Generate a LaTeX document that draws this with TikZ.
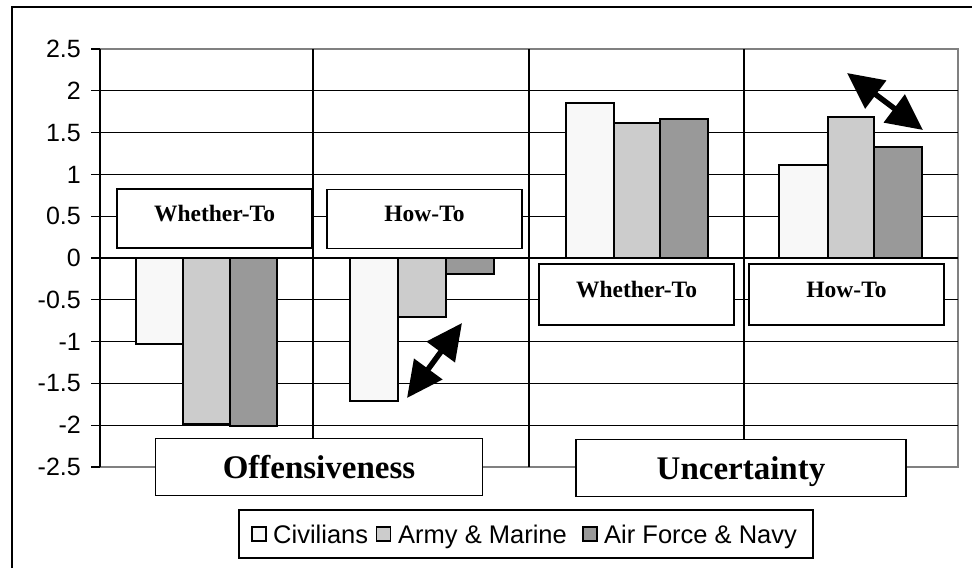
\documentclass[tikz,border=0pt]{standalone}
\usepackage{fontspec}
\setmainfont{Liberation Serif}
\setsansfont{Liberation Sans}
\usetikzlibrary{arrows.meta}
\definecolor{civ}{HTML}{F8F8F8}
\definecolor{army}{HTML}{CCCCCC}
\definecolor{airnavy}{HTML}{999999}
\definecolor{plotedge}{HTML}{808080}

\tikzset{
  grid/.style={line width=1.3pt, black},
  edge/.style={line width=1.6pt, plotedge},
  bar/.style={draw=black, line width=1.6pt},
  ticklab/.style={anchor=east, inner sep=0pt, font=\sffamily\fontsize{25}{25}\selectfont},
  tagbox/.style={draw=black, fill=white, line width=1.8pt, minimum width=195pt,
    text height=15pt, text depth=10pt,
    font=\bfseries\fontsize{23.5}{23.5}\selectfont},
  catbox/.style={draw=black, fill=white, line width=1.8pt, minimum height=57pt,
    text height=22pt, text depth=0pt,
    font=\bfseries\fontsize{33}{33}\selectfont},
  legsq/.style={draw=black, line width=1.2pt, minimum width=14pt, minimum height=14pt, inner sep=0pt},
  legtext/.style={anchor=base west, inner sep=0pt, font=\sffamily\fontsize{25.5}{25.5}\selectfont},
  gap/.style={line width=5.5pt, {Triangle[length=36pt,width=34pt]}-{Triangle[length=36pt,width=34pt]}}
}

\begin{document}
\begin{tikzpicture}[x=1pt, y=-1pt]
\useasboundingbox (0,0) rectangle (972,568);

% outer chart frame
\draw[line width=1.8pt] (12,568) -- (12,7) -- (972,7);

% plot area edges
\draw[edge] (100,49) -- (958,49) -- (958,467) -- (100,467);

% horizontal gridlines, ticks and value labels
\foreach \v in {-2,-1.5,-1,-0.5,0,0.5,1,1.5,2}{
  \draw[grid] (91,{258-83.6*\v}) -- (958,{258-83.6*\v});
}
\foreach \v in {-2.5,-2,-1.5,-1,-0.5,0,0.5,1,1.5,2,2.5}{
  \draw[grid] (91,{258-83.6*\v}) -- (100,{258-83.6*\v});
  \node[ticklab] at (81,{258-83.6*\v}) {\v};
}

% value axis and category dividers
\draw[grid] (100,49) -- (100,467);
\foreach \x in {313,529,744}{
  \draw[grid] (\x,49) -- (\x,467);
}

% bars: Offensiveness, whether-to
\draw[bar, fill=civ]     (136,258) rectangle (183,344);
\draw[bar, fill=army]    (183,258) rectangle (230,424);
\draw[bar, fill=airnavy] (230,258) rectangle (277,426);
% bars: Offensiveness, how-to
\draw[bar, fill=civ]     (350,258) rectangle (398,401);
\draw[bar, fill=army]    (398,258) rectangle (446,317);
\draw[bar, fill=airnavy] (446,258) rectangle (494,274);
% bars: Uncertainty, whether-to
\draw[bar, fill=civ]     (566,258) rectangle (614,103);
\draw[bar, fill=army]    (614,258) rectangle (660,123);
\draw[bar, fill=airnavy] (660,258) rectangle (708,119);
% bars: Uncertainty, how-to
\draw[bar, fill=civ]     (779,258) rectangle (828,165);
\draw[bar, fill=army]    (828,258) rectangle (874,117);
\draw[bar, fill=airnavy] (874,258) rectangle (922,147);

% group tags
\node[tagbox, minimum height=59pt] (wt1) at (214.5,218.5) {Whether-To};
\node[tagbox, minimum height=59pt] (ht1) at (424.5,219) {How-To};
\node[tagbox, minimum height=61pt] (wt2) at (636.5,294.5) {Whether-To};
\node[tagbox, minimum height=61pt] (ht2) at (846.5,294.5) {How-To};

% category tags
\node[catbox, minimum width=327pt] (off) at (319,467) {Offensiveness};
\node[catbox, minimum width=330pt] (unc) at (741,468) {Uncertainty};

% gap arrows
\coordinate (g1a) at (407,398);
\coordinate (g1b) at (462,323);
\coordinate (g2a) at (847,73);
\coordinate (g2b) at (923,130);
\draw[gap] (g1a) -- (g1b);
\draw[gap] (g2a) -- (g2b);

% legend
\node[draw=black, line width=1.6pt, fill=white, minimum width=574pt, minimum height=48pt] (leg) at (526,534) {};
\node[legsq, fill=civ]     (lc) at (259,534) {};
\node[legtext] (tc) at (273,543) {Civilians};
\node[legsq, fill=army]    (la) at (383.5,534) {};
\node[legtext] (ta) at (398,543) {Army \& Marine};
\node[legsq, fill=airnavy] (lf) at (590,534) {};
\node[legtext] (tf) at (604,543) {Air Force \& Navy};
\end{tikzpicture}
\end{document}
